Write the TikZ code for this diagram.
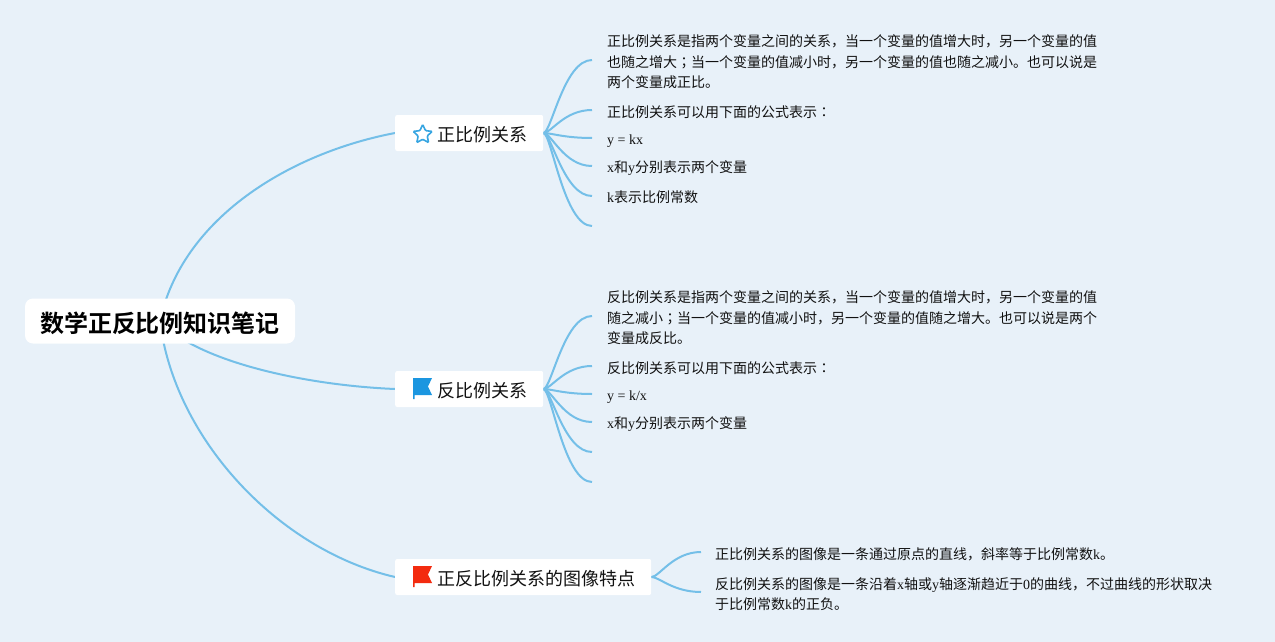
\documentclass[tikz,border=0pt]{standalone}
\usepackage{fontspec}
\usepackage{xcolor}
\usetikzlibrary{arrows.meta,shapes.geometric,backgrounds}

\setmainfont{Noto Sans CJK SC}[BoldFont=* Bold]
\newfontfamily\latinfont{Liberation Serif}
\newfontfamily\punctfont{Noto Sans CJK TC}
\newcommand{\la}[1]{{\latinfont #1}}
\newcommand{\pu}[1]{{\punctfont #1}}

\definecolor{pagebg}{RGB}{232,241,249}
\definecolor{branchblue}{RGB}{116,191,232}
\definecolor{iconblue}{RGB}{27,150,224}
\definecolor{starblue}{RGB}{55,165,225}
\definecolor{iconred}{RGB}{243,43,15}
\definecolor{inkblack}{RGB}{17,17,17}

\tikzset{
	rootnode/.style={fill=white, rounded corners=8pt, text=black, font=\fontsize{24}{28}\selectfont\bfseries,
		minimum width=270pt, minimum height=45pt, inner sep=0pt, text height=23pt, text depth=1pt},
	topic/.style={fill=white, rounded corners=2pt, text=inkblack, font=\fontsize{18}{22}\selectfont,
		anchor=west, minimum height=36pt, inner ysep=0pt, inner xsep=15.5pt, text height=17pt, text depth=1pt},
	leaf/.style={anchor=west, text=inkblack, font=\fontsize{14}{20.5}\selectfont, align=left,
		inner xsep=15pt, inner ysep=0pt},
	branch/.style={draw=branchblue, line width=2pt},
	twig/.style={draw=branchblue, line width=2pt,
		to path={.. controls +(8,0) and +(-28,0) .. (\tikztotarget)}},
	staricon/.style={star, star points=5, star point ratio=2.1, draw=starblue, line width=1.6pt,
		rounded corners=1pt, minimum size=20pt, inner sep=0pt},
	flagicon/.pic={
		\fill[pic actions] (0,0) -- (19,0) -- (15,8.5) -- (19,17) -- (1.5,17) -- (1.5,21) -- (0,21) -- cycle;
	},
}

\begin{document}
\begin{tikzpicture}[x=1pt, y=-1pt]
	\useasboundingbox (0,0) rectangle (1275,642);

	\node[rootnode] (root) at (160,321) {数学正反比例知识笔记};

	\node[topic] (direct) at (395,133) {\hspace*{27pt}正比例关系};
	\node[topic] (inverse) at (395,389) {\hspace*{27pt}反比例关系};
	\node[topic] (graph) at (395,577) {\hspace*{27pt}正反比例关系的图像特点};

	\node[staricon] (staricon1) at (422.7,134.5) {};
	\pic[fill=iconblue] at (413,378) {flagicon};
	\pic[fill=iconred] at (413,566) {flagicon};

	\node[leaf] (d1) at (592,62) {正比例关系是指两个变量之间的关系，当一个变量的值增大时，另一个变量的值\\也随之增大\pu{；}当一个变量的值减小时，另一个变量的值也随之减小。也可以说是\\两个变量成正比。};
	\node[leaf] (d2) at (592,112) {正比例关系可以用下面的公式表示\pu{：}};
	\node[leaf] (d3) at (592,141) {\la{y = kx}};
	\node[leaf] (d4) at (592,168) {\la{x}和\la{y}分别表示两个变量};
	\node[leaf] (d5) at (592,197) {\la{k}表示比例常数};
	\coordinate (d6) at (592,226);

	\node[leaf] (i1) at (592,318) {反比例关系是指两个变量之间的关系，当一个变量的值增大时，另一个变量的值\\随之减小\pu{；}当一个变量的值减小时，另一个变量的值随之增大。也可以说是两个\\变量成反比。};
	\node[leaf] (i2) at (592,368) {反比例关系可以用下面的公式表示\pu{：}};
	\node[leaf] (i3) at (592,397) {\la{y = k/x}};
	\node[leaf] (i4) at (592,424) {\la{x}和\la{y}分别表示两个变量};
	\coordinate (i5) at (592,452);
	\coordinate (i6) at (592,482);

	\node[leaf, inner xsep=14pt] (g1) at (701,554) {正比例关系的图像是一条通过原点的直线，斜率等于比例常数\la{k}。};
	\node[leaf, inner xsep=14pt] (g2) at (701,594) {反比例关系的图像是一条沿着\la{x}轴或\la{y}轴逐渐趋近于\la{0}的曲线，不过曲线的形状取决\\于比例常数\la{k}的正负。};

	\begin{scope}[on background layer]
		\fill[pagebg] (0,0) rectangle (1275,642);

		\path[branch] (root.center) .. controls +(22,-103) and +(-105,20) .. (direct.west);
		\path[branch] (root.center) .. controls +(35,39) and +(-95,-4) .. (inverse.west);
		\path[branch] (root.center) .. controls +(14,117) and +(-117,-27) .. (graph.west);

		\path (direct.east) edge [twig] ([yshift=2pt]d1.west);
		\path (direct.east) edge [twig] ([yshift=2pt]d2.west);
		\path (direct.east) edge [twig] ([yshift=3pt]d3.west);
		\path (direct.east) edge [twig] ([yshift=2pt]d4.west);
		\path (direct.east) edge [twig] ([yshift=1pt]d5.west);
		\path (direct.east) edge [twig] (d6);

		\path (inverse.east) edge [twig] ([yshift=2pt]i1.west);
		\path (inverse.east) edge [twig] ([yshift=2pt]i2.west);
		\path (inverse.east) edge [twig] ([yshift=3pt]i3.west);
		\path (inverse.east) edge [twig] ([yshift=2pt]i4.west);
		\path (inverse.east) edge [twig] (i5);
		\path (inverse.east) edge [twig] (i6);

		\path (graph.east) edge [twig] ([yshift=2pt]g1.west);
		\path (graph.east) edge [twig] ([yshift=2pt]g2.west);
	\end{scope}
\end{tikzpicture}
\end{document}
